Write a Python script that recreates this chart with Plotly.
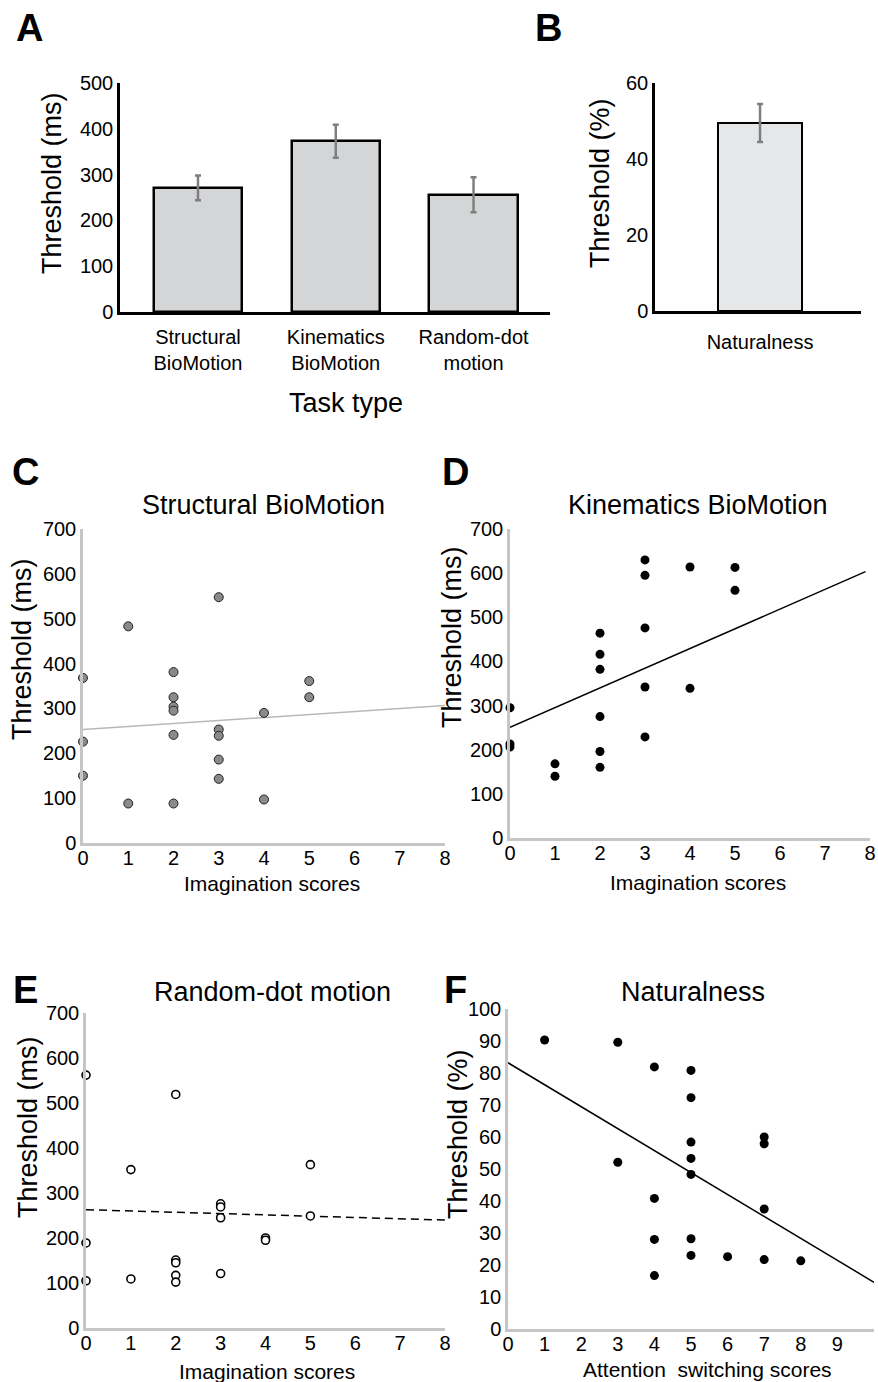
import plotly.graph_objects as go

W, H = 878, 1382
FONT = "Liberation Sans, Arial, sans-serif"

# ---------------- data ----------------
# Panel A
task_types = ["Structural<br>BioMotion", "Kinematics<br>BioMotion", "Random-dot<br>motion"]
task_thresholds = [271, 373, 256]
task_errors = [27, 36, 38]

# Panel B
nat_category = ["Naturalness"]
nat_threshold = [49.5]
nat_error = [5.0]

# Panel C - Structural BioMotion
c_scores = [0, 0, 0, 1, 1, 2, 2, 2, 2, 2, 2, 3, 3, 3, 3, 3, 4, 4, 5, 5]
c_thresholds = [368, 226, 150, 483, 88, 381, 325, 304, 295, 241, 88, 548, 253, 239, 186, 143, 290, 97, 361, 325]
c_fit = [253, 6.7]          # intercept, slope
c_fit_range = [0, 8]

# Panel D - Kinematics BioMotion
d_scores = [0, 0, 0, 1, 1, 2, 2, 2, 2, 2, 2, 3, 3, 3, 3, 3, 4, 4, 5, 5]
d_thresholds = [295, 213, 206, 168, 140, 464, 416, 382, 275, 196, 160, 630, 595, 476, 342, 229, 614, 339, 613, 561]
d_fit = [251, 44.6]
d_fit_range = [0, 7.9]

# Panel E - Random-dot motion
e_scores = [0, 0, 0, 1, 1, 2, 2, 2, 2, 2, 3, 3, 3, 3, 4, 4, 5, 5]
e_thresholds = [562, 189, 105, 352, 109, 519, 151, 145, 117, 102, 276, 269, 245, 121, 200, 195, 363, 249]
e_fit = [263, -2.9]
e_fit_range = [0, 8]

# Panel F - Naturalness
f_scores = [1, 3, 3, 4, 4, 4, 4, 5, 5, 5, 5, 5, 5, 5, 6, 7, 7, 7, 7, 8]
f_thresholds = [90.3, 89.6, 52.1, 81.9, 40.8, 28.0, 16.7, 80.8, 72.3, 58.4, 53.3, 48.3, 28.2, 23.0, 22.6,
                60.0, 57.9, 37.5, 21.7, 21.3]
f_fit = [83.2, -6.86]
f_fit_range = [0, 10]

imag_ticks = [0, 1, 2, 3, 4, 5, 6, 7, 8]
att_ticks = [0, 1, 2, 3, 4, 5, 6, 7, 8, 9]


def xd(a, b):
    return [a / W, b / W]


def yd(top, bottom):
    return [1 - bottom / H, 1 - top / H]


def fit_line(fit, rng):
    xs = list(rng)
    ys = [fit[0] + fit[1] * x for x in xs]
    return xs, ys


fig = go.Figure()

# A bars
fig.add_trace(go.Bar(
    x=task_types, y=task_thresholds, width=0.64, xaxis="x", yaxis="y",
    marker=dict(color="#d4d5d7", line=dict(color="black", width=2.5)),
    error_y=dict(type="data", array=task_errors, color="#7f7f7f", thickness=2.5, width=3),
    showlegend=False))

# B bar
fig.add_trace(go.Bar(
    x=nat_category, y=nat_threshold, width=0.6, xaxis="x2", yaxis="y2",
    marker=dict(color="#e6e7e8", line=dict(color="black", width=2)),
    error_y=dict(type="data", array=nat_error, color="#7f7f7f", thickness=2.5, width=3),
    showlegend=False))

# C
fx, fy = fit_line(c_fit, c_fit_range)
fig.add_trace(go.Scatter(x=fx, y=fy, mode="lines", xaxis="x3", yaxis="y3",
                         line=dict(color="#b8b8b8", width=1.5), showlegend=False))
fig.add_trace(go.Scatter(x=c_scores, y=c_thresholds, mode="markers", xaxis="x3", yaxis="y3",
                         marker=dict(size=9, color="#8a8a8a", line=dict(color="#222", width=1)),
                         cliponaxis=False, showlegend=False))

# D
fx, fy = fit_line(d_fit, d_fit_range)
fig.add_trace(go.Scatter(x=fx, y=fy, mode="lines", xaxis="x4", yaxis="y4",
                         line=dict(color="black", width=1.5), showlegend=False))
fig.add_trace(go.Scatter(x=d_scores, y=d_thresholds, mode="markers", xaxis="x4", yaxis="y4",
                         marker=dict(size=9, color="black"), cliponaxis=False, showlegend=False))

# E
fx, fy = fit_line(e_fit, e_fit_range)
fig.add_trace(go.Scatter(x=fx, y=fy, mode="lines", xaxis="x5", yaxis="y5",
                         line=dict(color="black", width=1.5, dash="8px,5px"), showlegend=False))
fig.add_trace(go.Scatter(x=e_scores, y=e_thresholds, mode="markers", xaxis="x5", yaxis="y5",
                         marker=dict(size=8, color="white", line=dict(color="black", width=1.6)),
                         cliponaxis=False, showlegend=False))

# F
fx, fy = fit_line(f_fit, f_fit_range)
fig.add_trace(go.Scatter(x=fx, y=fy, mode="lines", xaxis="x6", yaxis="y6",
                         line=dict(color="black", width=1.5), showlegend=False))
fig.add_trace(go.Scatter(x=f_scores, y=f_thresholds, mode="markers", xaxis="x6", yaxis="y6",
                         marker=dict(size=9, color="black"), cliponaxis=False, showlegend=False))

tick_font = dict(family=FONT, size=20, color="black")

bar_y = dict(showline=True, linecolor="black", linewidth=2.5, showgrid=False, zeroline=False,
             ticks="", tickfont=tick_font, automargin=False)
bar_x = dict(showline=True, linecolor="black", linewidth=3, showgrid=False, zeroline=False,
             ticks="", tickfont=tick_font, type="category", automargin=False)
sc_y = dict(showline=True, linecolor="#c6c6c6", linewidth=2.5, showgrid=False, zeroline=False,
            ticks="", tickfont=tick_font, automargin=False)
sc_x = dict(sc_y, ticklabelstandoff=-5)

fig.update_layout(
    width=W, height=H, margin=dict(l=0, r=0, t=0, b=0, autoexpand=False),
    paper_bgcolor="white", plot_bgcolor="white",
    font=dict(family=FONT, color="black"),
    bargap=0,
    xaxis=dict(domain=xd(120, 550), anchor="y", range=[-0.566, 2.555], ticklabelstandoff=5, **bar_x),
    yaxis=dict(domain=yd(83, 312), anchor="x", range=[0, 500], dtick=100, **bar_y),
    xaxis2=dict(domain=xd(655, 861), anchor="y2", range=[-0.75, 0.721], ticklabelstandoff=11, **bar_x),
    yaxis2=dict(domain=yd(83, 311), anchor="x2", range=[0, 60], dtick=20, **bar_y),
    xaxis3=dict(domain=xd(83, 445), anchor="y3", range=[0, 8], tickvals=imag_ticks, **sc_x),
    yaxis3=dict(domain=yd(529, 843), anchor="x3", range=[0, 700], dtick=100, **sc_y),
    xaxis4=dict(domain=xd(510, 870), anchor="y4", range=[0, 8], tickvals=imag_ticks, **sc_x),
    yaxis4=dict(domain=yd(529, 838), anchor="x4", range=[0, 700], dtick=100, **sc_y),
    xaxis5=dict(domain=xd(86, 445), anchor="y5", range=[0, 8], tickvals=imag_ticks, **sc_x),
    yaxis5=dict(domain=yd(1013, 1328), anchor="x5", range=[0, 700], dtick=100, **sc_y),
    xaxis6=dict(domain=xd(508, 874), anchor="y6", range=[0, 10], tickvals=att_ticks, **sc_x),
    yaxis6=dict(domain=yd(1009, 1329), anchor="x6", range=[0, 100], dtick=10, **sc_y),
)


def ann(text, x, y, size, bold=False, angle=0):
    if bold:
        text = "<b>" + text + "</b>"
    fig.add_annotation(text=text, x=x / W, y=1 - y / H, xref="paper", yref="paper",
                       xanchor="center", yanchor="middle", showarrow=False, textangle=angle,
                       font=dict(family=FONT, size=size, color="black"))


# panel letters
ann("A", 29, 28, 38, bold=True)
ann("B", 548, 28, 38, bold=True)
ann("C", 25, 472, 38, bold=True)
ann("D", 455, 472, 38, bold=True)
ann("E", 25, 990, 38, bold=True)
ann("F", 455, 990, 38, bold=True)

# titles
ann("Structural BioMotion", 263, 505, 27)
ann("Kinematics BioMotion", 698, 505, 27)
ann("Random-dot motion", 272, 992, 27)
ann("Naturalness", 693, 992, 27)

# axis titles
ann("Threshold (ms)", 52, 183, 27, angle=-90)
ann("Threshold (%)", 600, 183, 27, angle=-90)
ann("Task type", 346, 403, 27)
ann("Threshold (ms)", 22, 649, 27, angle=-90)
ann("Threshold (ms)", 452, 637, 27, angle=-90)
ann("Threshold (ms)", 28, 1127, 27, angle=-90)
ann("Threshold (%)", 458, 1134, 27, angle=-90)
ann("Imagination scores", 272, 883, 21)
ann("Imagination scores", 698, 882, 21)
ann("Imagination scores", 267, 1371, 21)
ann("Attention&nbsp; switching scores", 707, 1369, 21)

fig.write_html(
    "out.html",
    config={"displayModeBar": False},
    post_script="document.body.style.margin='0px';document.body.style.padding='0px';"
                "document.documentElement.style.overflow='hidden';",
)
